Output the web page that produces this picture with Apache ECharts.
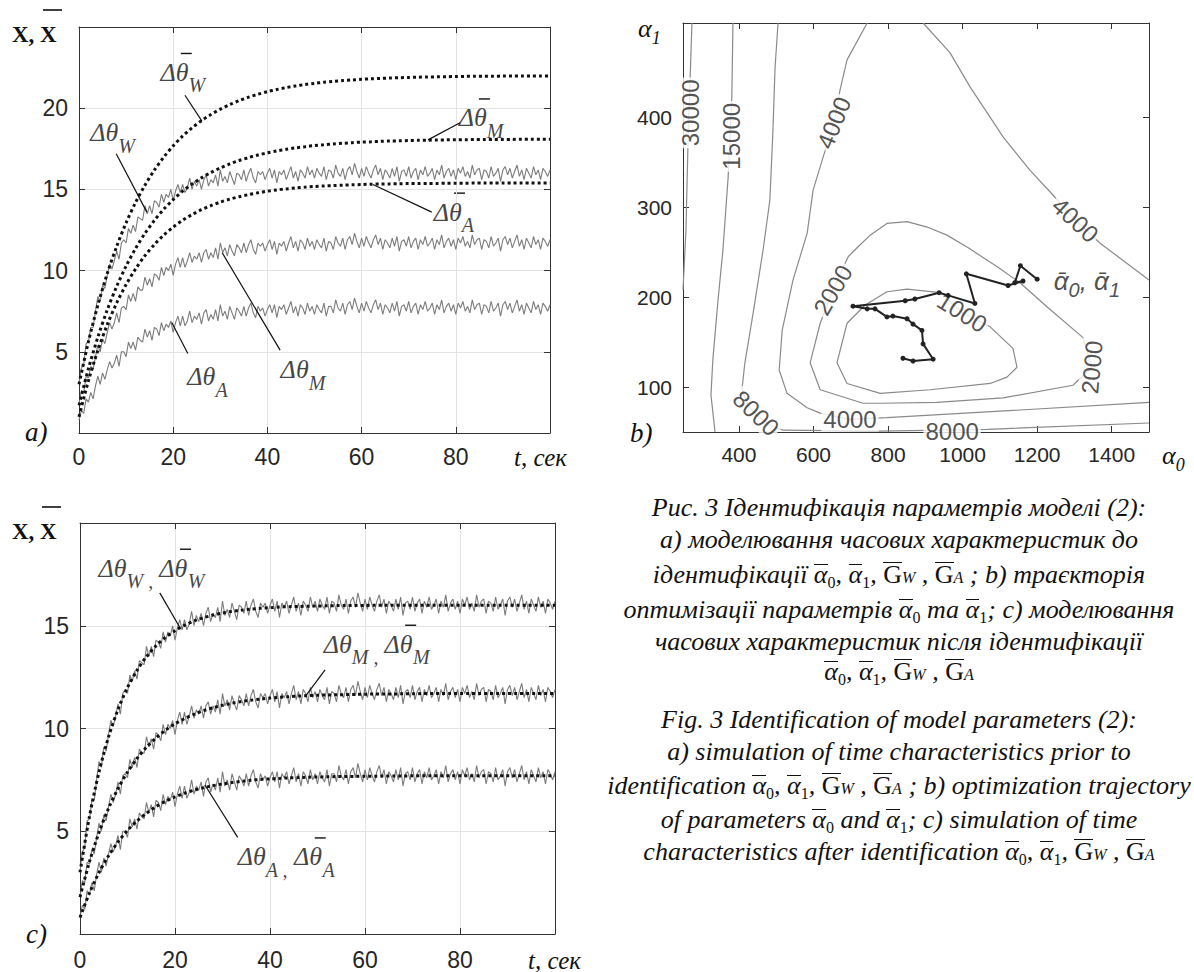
<!DOCTYPE html>
<html>
<head>
<meta charset="utf-8">
<title>Рис. 3 Ідентифікація параметрів моделі</title>
<script src="https://cdn.jsdelivr.net/npm/echarts@6/dist/echarts.min.js"></script>
<style>
  html, body { margin: 0; padding: 0; background: #fff; overflow: hidden; }
  #wrap { position: relative; width: 1194px; height: 972px; overflow: hidden; }
  #chart { position: absolute; left: 0; top: 0; width: 1194px; height: 972px; }
  .cap { position: absolute; left: 449px; width: 900px; height: 32px; line-height: 32px; text-align: center;
         font-family: "Liberation Serif", "Times New Roman", serif; font-style: italic; font-size: 26px;
         color: #111; white-space: nowrap; }
  .ov { display: inline-block; line-height: 19px; border-top: 1.4px solid #111; }
  .g { display: inline-block; line-height: 24px; border-top: 1.4px solid #111; font-style: normal; }
  sub { font-size: 16px; font-style: normal; vertical-align: -5px; line-height: 0; }
  sub.w { font-style: italic; font-size: 16px; vertical-align: 0; }
</style>
</head>
<body>
<div id="wrap">
  <div id="chart"></div>
  <div class="cap" style="top:492px">Рис. 3 Ідентифікація параметрів моделі (2):</div>
  <div class="cap" style="top:524px">а) моделювання часових характеристик до</div>
  <div class="cap" style="top:559px">ідентифікації <span class="ov">α</span><sub>0</sub>, <span class="ov">α</span><sub>1</sub>, <span class="g">G</span><sub class="w">W</sub> , <span class="g">G</span><sub class="w">A</sub> ; b) траєкторія</div>
  <div class="cap" style="top:594px">оптимізації параметрів <span class="ov">α</span><sub>0</sub> та <span class="ov">α</span><sub>1</sub>; с) моделювання</div>
  <div class="cap" style="top:626px">часових характеристик після ідентифікації</div>
  <div class="cap" style="top:656px"><span class="ov">α</span><sub>0</sub>, <span class="ov">α</span><sub>1</sub>, <span class="g">G</span><sub class="w">W</sub> , <span class="g">G</span><sub class="w">A</sub></div>
  <div class="cap" style="top:704px">Fig. 3 Identification of model parameters (2):</div>
  <div class="cap" style="top:736px">a) simulation of time characteristics prior to</div>
  <div class="cap" style="top:770px">identification <span class="ov">α</span><sub>0</sub>, <span class="ov">α</span><sub>1</sub>, <span class="g">G</span><sub class="w">W</sub> , <span class="g">G</span><sub class="w">A</sub> ; b) optimization trajectory</div>
  <div class="cap" style="top:804px">of parameters <span class="ov">α</span><sub>0</sub> and <span class="ov">α</span><sub>1</sub>; c) simulation of time</div>
  <div class="cap" style="top:836px">characteristics after identification <span class="ov">α</span><sub>0</sub>, <span class="ov">α</span><sub>1</sub>, <span class="g">G</span><sub class="w">W</sub> , <span class="g">G</span><sub class="w">A</sub></div>
</div>
<script>
// measured temperatures, one value every 0.5 s from t = 0 to 100 s
var MEAS_DT = 0.5;
var measW = [3.0,4.0,4.2,5.5,5.6,6.5,6.5,7.5,8.4,8.1, 9.1,8.9,9.7,10.4,10.1,10.6,11.2,10.7,11.7,11.9,
  11.7,12.6,12.3,12.8,12.4,13.3,13.2,13.1,14.0,13.5, 14.0,13.5,14.3,14.2,13.9,14.7,14.2,14.7,14.5,15.0,
  14.3,14.9,15.3,14.8,15.3,14.8,15.1,15.7,15.0,15.5, 15.2,15.6,15.0,15.6,15.9,15.2,15.6,15.4,15.9,15.2,
  16.2,15.5,15.8,15.4,16.1,15.7,15.3,16.0,15.9,15.6, 16.2,15.5,16.0,16.3,15.7,15.4,16.1,15.9,16.1,15.6,
  16.0,16.3,15.7,16.2,15.4,16.1,15.9,16.2,15.6,16.0, 16.4,15.7,16.1,15.5,16.2,16.0,15.7,16.4,15.9,16.2,
  15.7,16.3,16.0,15.8,16.4,15.6,16.2,16.1,15.7,16.5, 16.0,15.8,16.3,15.6,16.2,16.4,15.9,16.6,16.1,15.7,
  16.3,15.8,16.4,16.0,15.7,16.2,16.5,15.9,16.3,15.6, 16.2,16.0,15.7,16.3,15.8,16.4,15.5,16.1,16.2,15.8,
  16.4,15.7,16.1,16.3,15.6,16.2,15.9,16.4,15.8,16.0, 16.3,15.6,16.2,15.9,16.5,15.7,16.1,16.3,15.8,16.2,
  15.6,16.3,16.0,16.4,15.8,16.1,15.7,16.5,15.9,16.2, 16.3,15.6,16.2,16.1,15.7,16.4,15.8,16.0,16.3,15.5,
  16.2,16.4,15.9,16.3,15.7,16.1,16.5,15.8,16.2,15.6, 16.3,16.0,15.7,16.4,15.9,16.2,15.6,16.3,16.1,15.8,16.2];
var measM = [1.8,2.6,2.5,3.5,3.4,4.1,3.9,4.7,5.4,5.0, 5.8,5.5,6.2,6.8,6.4,6.8,7.4,6.8,7.7,7.8,
  7.6,8.5,8.1,8.6,8.1,9.0,8.8,8.8,9.6,9.1, 9.5,9.0,9.8,9.7,9.4,10.2,9.7,10.2,10.0,10.4,
  9.7,10.4,10.8,10.2,10.8,10.2,10.6,11.1,10.5,10.9, 10.7,11.1,10.5,11.1,11.3,10.7,11.1,10.8,11.4,10.7,
  11.7,11.1,11.4,10.9,11.6,11.2,10.9,11.6,11.4,11.1, 11.7,11.1,11.6,11.9,11.3,11.0,11.7,11.5,11.7,11.2,
  11.6,11.9,11.3,11.8,11.0,11.7,11.5,11.8,11.2,11.7, 12.1,11.4,11.8,11.2,11.9,11.7,11.3,12.0,11.5,11.8,
  11.3,11.9,11.6,11.4,12.0,11.2,11.8,11.7,11.3,12.1, 11.7,11.5,12.0,11.3,11.9,12.1,11.6,12.3,11.8,11.4,
  12.0,11.5,12.1,11.7,11.4,11.9,12.2,11.6,12.0,11.3, 11.9,11.7,11.4,12.0,11.5,12.1,11.2,11.8,11.9,11.5,
  12.1,11.4,11.8,12.0,11.3,11.9,11.6,12.1,11.5,11.7, 12.0,11.3,11.9,11.6,12.2,11.4,11.8,12.0,11.5,11.9,
  11.3,12.0,11.7,12.1,11.5,11.8,11.4,12.2,11.6,11.9, 12.0,11.3,11.9,11.8,11.4,12.1,11.5,11.7,12.0,11.2,
  11.9,12.1,11.6,12.0,11.4,11.8,12.2,11.5,11.9,11.3, 12.0,11.7,11.4,12.1,11.6,11.9,11.3,12.0,11.8,11.5,11.9];
var measA = [0.8,1.4,1.2,2.1,1.9,2.5,2.1,2.9,3.5,3.0, 3.7,3.3,3.9,4.4,4.0,4.3,4.8,4.1,5.0,5.0,
  4.7,5.6,5.2,5.6,5.1,5.9,5.7,5.6,6.4,5.9, 6.3,5.7,6.5,6.4,6.0,6.8,6.3,6.7,6.5,6.9,
  6.2,6.8,7.2,6.6,7.2,6.6,6.9,7.5,6.8,7.2, 7.0,7.4,6.7,7.4,7.6,6.9,7.3,7.0,7.6,6.9,
  7.9,7.2,7.5,7.0,7.8,7.4,7.0,7.7,7.5,7.2, 7.8,7.2,7.7,8.0,7.4,7.1,7.8,7.5,7.7,7.2,
  7.6,7.9,7.4,7.9,7.1,7.8,7.6,7.9,7.3,7.7, 8.1,7.4,7.8,7.2,7.9,7.7,7.3,8.0,7.5,7.8,
  7.3,7.9,7.6,7.4,8.0,7.2,7.8,7.8,7.4,8.2, 7.7,7.5,8.0,7.3,7.9,8.1,7.6,8.3,7.8,7.4,
  8.0,7.5,8.1,7.7,7.4,7.9,8.2,7.6,8.0,7.3, 7.9,7.7,7.4,8.0,7.5,8.1,7.2,7.8,7.9,7.5,
  8.1,7.4,7.8,8.0,7.3,7.9,7.6,8.1,7.5,7.7, 8.0,7.3,7.9,7.6,8.2,7.4,7.8,8.0,7.5,7.9,
  7.3,8.0,7.7,8.1,7.5,7.8,7.4,8.2,7.6,7.9, 8.0,7.3,7.9,7.8,7.4,8.1,7.5,7.7,8.0,7.2,
  7.9,8.1,7.6,8.0,7.4,7.8,8.2,7.5,7.9,7.3, 8.0,7.7,7.4,8.1,7.6,7.9,7.3,8.0,7.8,7.5,7.9];

// model responses, one value every 2 s from t = 0 to 100 s
var MODEL_DT = 2;
// a) before identification
var modelWa = [3.00,5.62,7.87,9.82,11.49,12.94,14.19,15.26,16.19,16.99,17.68,18.28,18.79,19.23,19.61,19.94,
  20.22,20.47,20.68,20.86,21.02,21.15,21.27,21.37,21.46,21.53,21.60,21.65,21.70,21.74,21.78,21.81,21.83,21.86,
  21.88,21.89,21.91,21.92,21.93,21.94,21.95,21.96,21.96,21.97,21.97,21.98,21.98,21.98,21.99,21.99,21.99];
var modelMa = [1.70,3.96,5.90,7.58,9.03,10.28,11.36,12.29,13.09,13.78,14.37,14.89,15.33,15.71,16.04,16.32,
  16.57,16.78,16.96,17.12,17.25,17.37,17.47,17.56,17.63,17.70,17.75,17.80,17.84,17.88,17.91,17.93,17.96,17.98,
  17.99,18.01,18.02,18.03,18.04,18.05,18.06,18.06,18.07,18.07,18.08,18.08,18.08,18.09,18.09,18.09,18.09];
var modelAa = [1.00,3.21,5.08,6.67,8.01,9.14,10.10,10.92,11.60,12.19,12.68,13.10,13.45,13.75,14.00,14.22,
  14.40,14.55,14.68,14.79,14.89,14.97,15.03,15.09,15.14,15.18,15.21,15.24,15.26,15.28,15.30,15.32,15.33,15.34,
  15.35,15.36,15.36,15.37,15.37,15.38,15.38,15.38,15.39,15.39,15.39,15.39,15.40,15.40,15.40,15.40,15.40];
// c) after identification
var modelWc = [3.00,5.73,7.88,9.58,10.93,11.99,12.83,13.50,14.02,14.44,14.76,15.02,15.23,15.39,15.52,15.62,
  15.70,15.76,15.81,15.85,15.88,15.91,15.93,15.94,15.95,15.96,15.97,15.98,15.98,15.99,15.99,16.00,16.00,16.00,
  16.00,16.00,16.00,16.00,16.00,16.00,16.00,16.00,16.00,16.00,16.00,16.00,16.00,16.00,16.00,16.00,16.00];
var modelMc = [1.80,3.52,4.94,6.11,7.08,7.88,8.54,9.09,9.54,9.92,10.23,10.48,10.69,10.87,11.01,11.13,
  11.23,11.31,11.38,11.43,11.48,11.52,11.55,11.58,11.60,11.62,11.63,11.64,11.65,11.66,11.67,11.68,11.68,11.68,
  11.69,11.69,11.70,11.70,11.70,11.70,11.70,11.70,11.70,11.70,11.70,11.70,11.70,11.70,11.70,11.70,11.70];
var modelAc = [0.80,2.00,2.99,3.80,4.48,5.04,5.50,5.88,6.20,6.46,6.67,6.85,7.00,7.12,7.22,7.30,
  7.37,7.43,7.48,7.52,7.55,7.57,7.60,7.61,7.63,7.64,7.65,7.66,7.66,7.67,7.68,7.68,7.69,7.69,
  7.69,7.70,7.70,7.70,7.70,7.70,7.70,7.70,7.70,7.70,7.70,7.70,7.70,7.70,7.70,7.70,7.70];

// b) contour lines of the criterion, [alpha0, alpha1]
var c30000 = [[274,505],[269,442],[263,364],[258,275],[250,208]];
var c15000 = [[384,505],[381,423],[371,333],[357,252],[344,197],[330,130],[325,91],[336,50]];
var c8000 = [[505,505],[497,456],[491,383],[483,308],[465,253],[438,182],[416,127],[408,97],[424,80],
  [446,69],[483,58],[518,52],[779,51],[1066,53],[1500,60]];
var c4000a = [[744,505],[690,464],[671,430],[655,394],[626,356],[599,319],[583,271],[545,219],[516,163],
  [508,119],[529,93],[583,77],[618,71],[698,64],[797,66],[1135,74],[1500,83]];
var c4000b = [[894,505],[966,472],[1020,434],[1109,378],[1181,341],[1235,317],[1302,286],[1369,260],[1500,219]];
var c2000 = [[693,245],[717,255],[752,269],[797,282],[851,284],[905,278],[958,269],[1015,255],[1092,234],
  [1154,216],[1227,189],[1323,155],[1347,122],[1296,102],[1109,88],[931,83],[779,82],[733,82],[618,97],
  [591,127],[618,171],[652,208],[693,245]];
var c1000 = [[690,171],[738,191],[797,206],[851,209],[940,205],[999,183],[1074,167],[1135,143],[1146,122],
  [1119,111],[1074,104],[913,97],[779,93],[690,104],[663,127],[690,171]];
// optimisation trajectory of alpha0, alpha1
var traj = [[1200,220],[1155,235],[1140,216],[1162,218],[1122,213],[1010,226],[1033,193],[961,202],[937,205],
  [872,198],[846,196],[706,190],[744,187],[765,187],[797,178],[813,179],[851,176],[867,170],[891,163],
  [894,148],[921,131],[867,129],[840,132]];
var levelText = ['30000','15000','4000','4000','2000','1000','2000','8000','4000','8000'];

function timed(arr, dt) { return arr.map(function (v, i) { return [i * dt, v]; }); }

var sans = '"Liberation Sans", Arial, sans-serif';
var serif = '"Liberation Serif", "Times New Roman", serif';
var axisColor = '#333';

function box(gi, min, max, interval, opt) {
  opt = opt || {};
  var lab = { fontSize: opt.fs || 23, color: '#262626', fontFamily: sans, margin: opt.margin || 12,
    formatter: opt.fmt || function (v) { return String(v); } };
  if (opt.custom) lab.customValues = opt.custom;
  var tick = { inside: true, length: 6, lineStyle: { color: axisColor } };
  if (opt.custom) tick.customValues = opt.custom;
  var main = { gridIndex: gi, type: 'value', min: min, max: max, interval: interval,
    axisLine: { onZero: false, lineStyle: { color: axisColor, width: 1 } }, axisTick: tick, axisLabel: lab,
    splitLine: { show: !!opt.grid, lineStyle: { color: '#e3e3e3', width: 1 } } };
  var other = { gridIndex: gi, type: 'value', min: min, max: max, interval: interval, position: opt.pos2,
    axisLine: { onZero: false, lineStyle: { color: axisColor, width: 1 } },
    axisTick: tick, axisLabel: { show: false }, splitLine: { show: false } };
  return [main, other];
}

var xa = box(0, 0, 100, 20, { grid: true, pos2: 'top', fmt: function (v) { return v === 100 ? '' : String(v); } });
var ya = box(0, 0, 25, 5, { grid: true, pos2: 'right', margin: 11, fmt: function (v) { return (v === 0 || v === 25) ? '' : String(v); } });
var xb = box(1, 250, 1500, null, { pos2: 'top', fs: 21, custom: [400, 600, 800, 1000, 1200, 1400] });
var yb = box(1, 50, 505, null, { pos2: 'right', fs: 21, margin: 11, custom: [100, 200, 300, 400] });
var xc = box(2, 0, 100, 20, { grid: true, pos2: 'top', margin: 14, fmt: function (v) { return v === 100 ? '' : String(v); } });
var yc = box(2, 0, 20, 5, { grid: true, pos2: 'right', margin: 11, fmt: function (v) { return (v === 0 || v === 20) ? '' : String(v); } });

function meas(arr, ax) {
  return { type: 'line', xAxisIndex: ax, yAxisIndex: ax, data: timed(arr, MEAS_DT), symbol: 'none',
    lineStyle: { color: '#7c7c7c', width: 1.1 }, z: 2, silent: true };
}
function model(arr, ax) {
  return { type: 'line', xAxisIndex: ax, yAxisIndex: ax, data: timed(arr, MODEL_DT), symbol: 'none', smooth: 0.3,
    lineStyle: { color: '#111', width: 3, type: [3, 3], cap: 'butt' }, z: 3, silent: true };
}
function leader(pts, ax) {
  return { type: 'line', xAxisIndex: ax, yAxisIndex: ax, data: pts, symbol: 'none',
    lineStyle: { color: '#111', width: 1.2 }, z: 4, silent: true };
}
// subscripts: tokens are top aligned, the subscript is pushed down by its top padding
var thetaRich = {
  m: { fontFamily: serif, fontStyle: 'italic', fontSize: 26, verticalAlign: 'top', color: '#111' },
  s: { fontFamily: serif, fontStyle: 'italic', fontSize: 20, verticalAlign: 'top', padding: [16, 0, 0, 0], color: '#111' }
};
function notes(items, ax) {
  return { type: 'scatter', xAxisIndex: ax, yAxisIndex: ax, symbolSize: 1, itemStyle: { color: 'rgba(0,0,0,0)' },
    z: 5, silent: true,
    label: { show: true, position: 'right', distance: 0, offset: [0, 5], rich: thetaRich },
    data: items.map(function (it) { return { value: it[0], label: { formatter: it[1] } }; }) };
}
var bar = '\u0304';

// the notes of model curves carry a bar over theta: [axis, anchor, text before the barred theta]
var barNotes = [
  [0, [17.2, 22.2], [['Δ', 'm']]],
  [0, [80.5, 19.4], [['Δ', 'm']]],
  [0, [75.2, 13.6], [['Δ', 'm']]],
  [4, [3.8, 17.8], [['Δθ', 'm'], ['W ,', 's'], [' Δ', 'm']]],
  [4, [51.2, 14.1], [['Δθ', 'm'], ['M ,', 's'], [' Δ', 'm']]],
  [4, [33.1, 3.75], [['Δθ', 'm'], ['A ,', 's'], [' Δ', 'm']]]
];

// contour label anchors
var levelPos = [[271, 405], [381, 379], [655, 394], [1302, 286], [652, 208], [999, 183], [1347, 122], [446, 71], [698, 64], [972, 51]];
var levelRot = [90, 90, 68, -43, 60, -32, 85, -44, 0, 0];

function contour(pts) {
  return { type: 'line', xAxisIndex: 2, yAxisIndex: 2, data: pts, symbol: 'none',
    lineStyle: { color: '#8a8a8a', width: 1.2 }, z: 2, silent: true };
}
function axisName(x, y, main, sub) {
  return { type: 'text', x: x, y: y, style: { text: '{a|' + main + '}{s|' + sub + '}', align: 'left', verticalAlign: 'top',
    textAlign: 'left', textVerticalAlign: 'top',
    rich: { a: { fontFamily: serif, fontStyle: 'italic', fontSize: 26, verticalAlign: 'top', fill: '#111', color: '#111' },
            s: { fontFamily: serif, fontStyle: 'italic', fontSize: 18, verticalAlign: 'top', padding: [14, 0, 0, 0], fill: '#111', color: '#111' } } } };
}
function plain(x, y, text, font) {
  return { type: 'text', x: x, y: y, style: { text: text, font: font, fill: '#111', align: 'left', verticalAlign: 'middle',
    textAlign: 'left', textVerticalAlign: 'middle' } };
}

var option = {
  animation: false,
  backgroundColor: '#fff',
  grid: [
    { left: 79, top: 27, width: 471, height: 406, outerBoundsMode: 'none' },
    { left: 683, top: 23, width: 466, height: 409, outerBoundsMode: 'none' },
    { left: 80, top: 523, width: 475, height: 411, outerBoundsMode: 'none' }
  ],
  xAxis: [xa[0], xa[1], xb[0], xb[1], xc[0], xc[1]],
  yAxis: [ya[0], ya[1], yb[0], yb[1], yc[0], yc[1]],
  series: [
    // a)
    meas(measW, 0), meas(measM, 0), meas(measA, 0),
    model(modelWa, 0), model(modelMa, 0), model(modelAa, 0),
    leader([[22.5, 20.8], [26.1, 19.2]], 0),
    leader([[7.9, 17.2], [14.4, 13.6]], 0),
    leader([[80.9, 19.1], [74.1, 18.05]], 0),
    leader([[74.9, 13.6], [62.4, 15.3]], 0),
    leader([[23.1, 4.9], [19.7, 6.8]], 0),
    leader([[42.7, 5.1], [30.4, 11.1]], 0),
    notes([
      [[17.2, 22.2], '{m|Δθ}{s|W}'],
      [[2.3, 18.5], '{m|Δθ}{s|W}'],
      [[80.5, 19.4], '{m|Δθ}{s|M}'],
      [[75.2, 13.6], '{m|Δθ}{s|A}'],
      [[22.9, 3.45], '{m|Δθ}{s|A}'],
      [[42.7, 3.9], '{m|Δθ}{s|M}']
    ], 0),
    // b)
    contour(c30000), contour(c15000), contour(c8000), contour(c4000a), contour(c4000b), contour(c2000), contour(c1000),
    { type: 'scatter', xAxisIndex: 2, yAxisIndex: 2, symbolSize: 1, itemStyle: { color: 'rgba(0,0,0,0)' }, z: 3, silent: true,
      label: { show: true, position: 'inside', fontSize: 24, fontFamily: sans, color: '#262626',
        backgroundColor: '#fff', padding: [0, 2] },
      data: levelText.map(function (t, i) {
        return { value: levelPos[i], label: { formatter: t, rotate: levelRot[i] } };
      }) },
    { type: 'line', xAxisIndex: 2, yAxisIndex: 2, data: traj, symbol: 'circle', symbolSize: 5, showAllSymbol: true,
      lineStyle: { color: '#222', width: 2 }, itemStyle: { color: '#222' }, z: 4, silent: true },
    { type: 'scatter', xAxisIndex: 2, yAxisIndex: 2, symbolSize: 1, itemStyle: { color: 'rgba(0,0,0,0)' }, z: 5, silent: true,
      label: { show: true, position: 'right', distance: 0, offset: [0, 4],
        formatter: '{o|α' + bar + '}{s|0}{o|, α' + bar + '}{s|1}',
        rich: {
          o: { fontFamily: sans, fontStyle: 'italic', fontSize: 26, verticalAlign: 'top', color: '#222' },
          s: { fontFamily: sans, fontStyle: 'italic', fontSize: 20, verticalAlign: 'top', padding: [12, 0, 0, 0], color: '#222' }
        } },
      data: [[1243, 219]] },
    // c)
    meas(measW, 4), meas(measM, 4), meas(measA, 4),
    model(modelWc, 4), model(modelMc, 4), model(modelAc, 4),
    leader([[16.8, 16.6], [21.05, 14.9]], 4),
    leader([[51.6, 12.85], [47.4, 11.55]], 4),
    leader([[33.2, 4.7], [26.3, 7.25]], 4),
    notes([
      [[3.8, 17.8], '{m|Δθ}{s|W ,}{m| Δθ}{s|W}'],
      [[51.2, 14.1], '{m|Δθ}{s|M ,}{m| Δθ}{s|M}'],
      [[33.1, 3.75], '{m|Δθ}{s|A ,}{m| Δθ}{s|A}']
    ], 4)
  ],
  graphic: [
    plain(12, 34, 'X, X', 'bold 23px ' + serif),
    { type: 'line', shape: { x1: 43, y1: 10, x2: 62, y2: 10 }, style: { stroke: '#111', lineWidth: 1.6 } },
    plain(12, 531, 'X, X', 'bold 23px ' + serif),
    { type: 'line', shape: { x1: 42, y1: 507, x2: 61, y2: 507 }, style: { stroke: '#111', lineWidth: 1.6 } },
    plain(514, 457, 't, сек', 'italic 25px ' + serif),
    plain(528, 960, 't, сек', 'italic 25px ' + serif),
    plain(25, 432, 'a)', 'italic 27px ' + serif),
    plain(630, 433, 'b)', 'italic 27px ' + serif),
    plain(26, 934, 'c)', 'italic 27px ' + serif),
    axisName(638, 15, 'α', '1'),
    axisName(1162, 442, 'α', '0')
  ]
};

var chart = echarts.init(document.getElementById('chart'), null, { renderer: 'svg' });
chart.setOption(option);

// bars over the model thetas, placed from the note anchors
var ctx = document.createElement('canvas').getContext('2d');
function textW(str, style) {
  ctx.font = (style === 's' ? 'italic 20px ' : 'italic 26px ') + serif;
  return ctx.measureText(str).width;
}
var bars = barNotes.map(function (b) {
  var p = chart.convertToPixel({ xAxisIndex: b[0], yAxisIndex: b[0] }, b[1]);
  var w = b[2].reduce(function (s, part) { return s + textW(part[0], part[1]); }, 0);
  var x = p[0] + 0.5 + w + 5;
  return { type: 'line', shape: { x1: x, y1: p[1] - 19, x2: x + 11, y2: p[1] - 19 },
    style: { stroke: '#111', lineWidth: 1.4 } };
});
chart.setOption({ graphic: option.graphic.concat(bars) });
</script>
</body>
</html>
